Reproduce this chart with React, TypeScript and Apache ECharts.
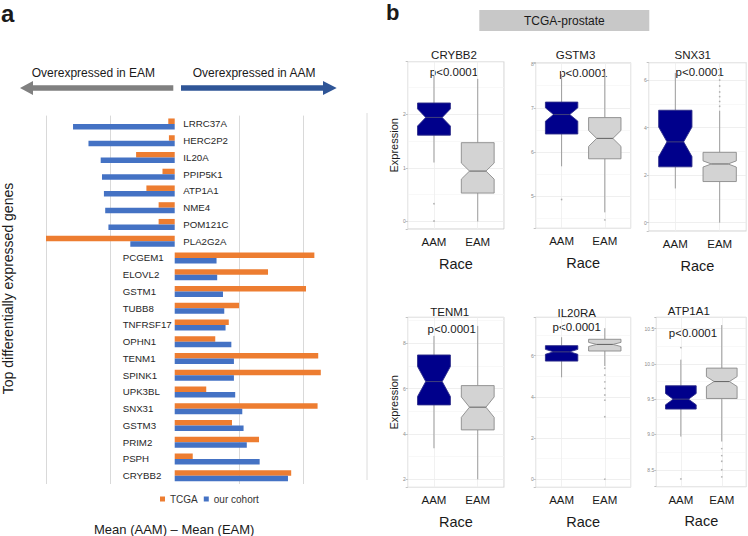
import React, { useEffect, useRef } from "react";
import * as echarts from "echarts";

// ---------- Panel a: mean(AAM) - mean(EAM) ----------
const genes = [
  "LRRC37A", "HERC2P2", "IL20A", "PPIP5K1", "ATP1A1", "NME4", "POM121C", "PLA2G2A",
  "PCGEM1", "ELOVL2", "GSTM1", "TUBB8", "TNFRSF17", "OPHN1", "TENM1", "SPINK1",
  "UPK3BL", "SNX31", "GSTM3", "PRIM2", "PSPH", "CRYBB2",
];
const tcgaDiff = [
  -0.1, -0.09, -0.6, -0.19, -0.44, -0.25, -0.25, -2.02,
  2.17, 1.45, 2.04, 1.0, 0.84, 0.63, 2.23, 2.27,
  0.49, 2.22, 0.89, 1.31, 0.28, 1.81,
];
const cohortDiff = [
  -1.58, -1.34, -1.15, -1.13, -1.1, -1.08, -1.03, -0.69,
  0.65, 0.66, 0.75, 0.77, 0.79, 0.88, 0.92, 0.92,
  0.94, 1.05, 1.07, 1.12, 1.32, 1.76,
];
const diffGridValues = [-2, -1, 1, 2];
const seriesNames = ["TCGA", "our cohort"];

// ---------- Panel b: TCGA-prostate boxplots ----------
const raceGroups = ["AAM", "EAM"];
const boxGenes = ["CRYBB2", "GSTM3", "SNX31", "TENM1", "IL20RA", "ATP1A1"];
const pValueText = "p<0.0001";
// per group: [lower whisker, Q1, median, Q3, upper whisker, notch half-height]
const crybb2Stats = [[1.1, 1.61, 1.94, 2.21, 2.72, 0.16], [0.0, 0.53, 0.94, 1.47, 2.66, 0.15]];
const gstm3Stats = [[5.68, 6.41, 6.85, 7.13, 7.76, 0.15], [4.64, 5.85, 6.31, 6.78, 7.8, 0.18]];
const snx31Stats = [[1.44, 2.35, 3.4, 4.73, 6.3, 0.62], [0.0, 1.73, 2.47, 2.96, 4.71, 0.13]];
const tenm1Stats = [[3.37, 5.28, 6.31, 7.48, 8.32, 0.66], [2.0, 4.18, 5.18, 6.13, 8.76, 0.45]];
const il20raStats = [[4.95, 5.74, 6.19, 6.49, 6.9, 0.12], [5.5, 6.23, 6.55, 6.8, 7.34, 0.1]];
const atp1a1Stats = [[8.97, 9.36, 9.5, 9.69, 10.06, 0.08], [8.9, 9.51, 9.75, 9.94, 10.55, 0.07]];
const crybb2Outliers = [[0.33, 0.01], []];
const gstm3Outliers = [[4.93], [4.47]];
const snx31Outliers = [[], [6.2, 6.0, 5.75, 5.5, 5.3, 5.1, 4.9]];
const tenm1Outliers = [[], []];
const il20raOutliers = [[], [5.39, 5.06, 4.73, 4.41, 4.09, 3.84, 3.03, 0.0]];
const atp1a1Outliers = [[10.23, 8.37], [8.8, 8.7, 8.62, 8.5, 8.4]];
const yAxisRanges = [[-0.14, 2.98], [4.28, 8.02], [-0.35, 6.73], [1.65, 9.14], [-0.4, 7.87], [8.26, 10.66]];
const yMajorSteps = [1, 1, 2, 2, 2, 0.5];

// ---------- layout ----------
const FONT = "Liberation Sans, Arial, Helvetica, sans-serif";
const panelRects = [
  { left: 407.7, top: 61.7, width: 96.3, height: 167.3 },
  { left: 535.7, top: 62.7, width: 95, height: 165.6 },
  { left: 648.7, top: 62.7, width: 97.6, height: 168.3 },
  { left: 407.7, top: 317.3, width: 96.3, height: 170 },
  { left: 535.7, top: 317.3, width: 95, height: 170 },
  { left: 656.3, top: 317.3, width: 90, height: 169.4 },
];
const titlePos = [[454, 55], [575.5, 55], [692.7, 55], [449.7, 312], [576.7, 312.5], [688.8, 311]];
const pPos = [[454, 72.3], [583.3, 72.7], [699.7, 72.3], [451.7, 329.3], [576.7, 326.7], [693, 333.3]];

const AAM_FILL = "#00008B";
const EAM_FILL = "#D3D3D3";

function renderNotchedBox(params: any, api: any) {
  const x = api.value(0);
  const lo = api.value(1);
  const q1 = api.value(2);
  const med = api.value(3);
  const q3 = api.value(4);
  const hi = api.value(5);
  const nh = api.value(6);
  const halfW = api.size([0.75, 0])[0] / 2;
  const c3 = api.coord([x, q3]);
  const cx = c3[0];
  const yQ3 = c3[1];
  const yQ1 = api.coord([x, q1])[1];
  const yMed = api.coord([x, med])[1];
  const yNU = api.coord([x, med + nh])[1];
  const yNL = api.coord([x, med - nh])[1];
  const yLo = api.coord([x, lo])[1];
  const yHi = api.coord([x, hi])[1];
  const waist = halfW * 0.5;
  const isA = Math.round(x) === 1;
  const fill = isA ? AAM_FILL : EAM_FILL;
  const stroke = isA ? "#2b2b88" : "#8a8a8a";
  const whisker = "#9c9c9c";
  return {
    type: "group",
    children: [
      { type: "line", shape: { x1: cx, y1: yHi, x2: cx, y2: yQ3 }, style: { stroke: whisker, lineWidth: 1 } },
      { type: "line", shape: { x1: cx, y1: yQ1, x2: cx, y2: yLo }, style: { stroke: whisker, lineWidth: 1 } },
      {
        type: "polygon",
        shape: {
          points: [
            [cx - halfW, yQ3], [cx + halfW, yQ3], [cx + halfW, yNU], [cx + waist, yMed],
            [cx + halfW, yNL], [cx + halfW, yQ1], [cx - halfW, yQ1], [cx - halfW, yNL],
            [cx - waist, yMed], [cx - halfW, yNU],
          ],
        },
        style: { fill, stroke, lineWidth: 0.9 },
      },
      { type: "line", shape: { x1: cx - waist, y1: yMed, x2: cx + waist, y2: yMed }, style: { stroke: isA ? "#3c3c7c" : "#6a6a6a", lineWidth: 1.1 } },
    ],
  };
}

function buildOption() {
  const grids: any[] = [
    { left: 46, top: 115.6, width: 289.6, height: 368.4, containLabel: false, outerBoundsMode: "none" },
  ];
  const xAxes: any[] = [
    {
      type: "value", gridIndex: 0, min: -2, max: 2.5,
      axisLine: { show: false }, axisTick: { show: false }, axisLabel: { show: false }, splitLine: { show: false },
    },
  ];
  const geneLabel = (margin: number, positive: boolean) => ({
    interval: 0, align: "left", margin, fontSize: 9.7, color: "#262626", fontFamily: FONT,
    formatter: (v: string, i: number) => ((cohortDiff[i] > 0) === positive ? v : ""),
  });
  const yAxes: any[] = [
    {
      type: "category", gridIndex: 0, data: genes, inverse: true, position: "left",
      axisLine: { show: false }, axisTick: { show: false }, splitLine: { show: false },
      axisLabel: geneLabel(-76.7, true),
    },
    {
      type: "category", gridIndex: 0, data: genes, inverse: true, position: "left",
      axisLine: { show: false }, axisTick: { show: false }, splitLine: { show: false },
      axisLabel: geneLabel(-137.3, false),
    },
  ];
  const series: any[] = [
    {
      type: "bar", name: seriesNames[0], xAxisIndex: 0, yAxisIndex: 0, data: tcgaDiff,
      barWidth: 5.5, barGap: "0%", itemStyle: { color: "#ED7D31" }, z: 3, silent: true,
      markLine: {
        silent: true, symbol: ["none", "none"], label: { show: false }, z: 1,
        lineStyle: { color: "#d9d9d9", type: "solid", width: 1 },
        data: diffGridValues.map((v) => ({ xAxis: v })),
      },
    },
    {
      type: "bar", name: seriesNames[1], xAxisIndex: 0, yAxisIndex: 0, data: cohortDiff,
      barWidth: 5.5, barGap: "0%", itemStyle: { color: "#4472C4" }, z: 3, silent: true,
    },
  ];

  const statsList = [crybb2Stats, gstm3Stats, snx31Stats, tenm1Stats, il20raStats, atp1a1Stats];
  const outlierList = [crybb2Outliers, gstm3Outliers, snx31Outliers, tenm1Outliers, il20raOutliers, atp1a1Outliers];

  boxGenes.forEach((gene, i) => {
    const gi = i + 1;
    const step = yMajorSteps[i];
    grids.push({
      ...panelRects[i], show: true, borderColor: "#c4c4c4", borderWidth: 0.8,
      containLabel: false, outerBoundsMode: "none",
    });
    xAxes.push({
      type: "value", gridIndex: gi, min: 0.4, max: 2.6, minInterval: 1, maxInterval: 1,
      axisLine: { show: false }, axisTick: { show: false },
      axisLabel: {
        fontSize: 11.5, color: "#1a1a1a", margin: 7, fontFamily: FONT,
        formatter: (v: number) => {
          const k = Math.round(v);
          return Math.abs(v - k) < 1e-6 && k >= 1 && k <= raceGroups.length ? raceGroups[k - 1] : "";
        },
      },
      splitLine: { show: true, lineStyle: { color: "#ededed", width: 0.8 } },
      name: "Race", nameLocation: "middle", nameGap: 27,
      nameTextStyle: { fontSize: 14.5, color: "#1a1a1a", fontFamily: FONT },
    });
    yAxes.push({
      type: "value", gridIndex: gi, min: yAxisRanges[i][0], max: yAxisRanges[i][1],
      minInterval: step, maxInterval: step,
      axisLine: { show: false },
      axisTick: { show: true, length: 2, lineStyle: { color: "#9a9a9a", width: 0.6 } },
      minorTick: { show: false, splitNumber: 2 },
      axisLabel: {
        fontSize: 5, color: "#8a8a8a", margin: 2, fontFamily: FONT,
        formatter: (v: number) => {
          const k = v / step;
          if (Math.abs(k - Math.round(k)) > 1e-6) return "";
          return step < 1 ? v.toFixed(1) : String(Math.round(v));
        },
      },
      splitLine: { show: true, lineStyle: { color: "#ebebeb", width: 0.8 } },
      minorSplitLine: { show: true, lineStyle: { color: "#f4f4f4", width: 0.6 } },
      name: i % 3 === 0 ? "Expression" : "", nameLocation: "middle", nameGap: 8,
      nameTextStyle: { fontSize: 11, color: "#1a1a1a", fontFamily: FONT },
    });
    series.push({
      type: "custom", xAxisIndex: gi, yAxisIndex: gi + 1, renderItem: renderNotchedBox,
      encode: { x: 0, y: [1, 2, 3, 4, 5] }, silent: true, z: 3,
      data: statsList[i].map((s, g) => [g + 1, ...s]),
    });
    series.push({
      type: "scatter", xAxisIndex: gi, yAxisIndex: gi + 1, symbolSize: 1.6, silent: true, z: 4,
      itemStyle: { color: "#9a9a9a" },
      data: outlierList[i].flatMap((arr, g) => arr.map((v) => [g + 1, v])),
    });
  });

  const txt = (text: string, x: number, y: number, size: number, extra: any = {}) => ({
    type: "text", x, y, silent: true, ...extra,
    style: {
      text, fill: "#1a1a1a", font: `${extra.bold ? "bold " : ""}${size}px ${FONT}`,
      align: extra.align || "center", verticalAlign: "middle",
    },
  });

  const graphic: any[] = [
    txt("a", 1, 13, 24, { bold: true, align: "left" }),
    txt("b", 386, 12, 22, { bold: true, align: "left" }),
    {
      type: "polygon", silent: true,
      shape: { points: [[20, 88], [33, 81], [33, 85.2], [173.3, 85.2], [173.3, 90.8], [33, 90.8], [33, 95]] },
      style: { fill: "#808080" },
    },
    {
      type: "polygon", silent: true,
      shape: { points: [[336.7, 88], [323, 81], [323, 85.2], [181, 85.2], [181, 90.8], [323, 90.8], [323, 95]] },
      style: { fill: "#2F5597" },
    },
    txt("Overexpressed in EAM", 31.7, 73.3, 12, { align: "left" }),
    txt("Overexpressed in AAM", 192.7, 73.3, 12, { align: "left" }),
    { ...txt("Top differentially expressed genes", 7.5, 288.5, 14), rotation: Math.PI / 2 },
    txt("Mean (AAM) \u2013 Mean (EAM)", 174.2, 529.3, 13),
    { type: "line", silent: true, shape: { x1: 367, y1: 113, x2: 367, y2: 480 }, style: { stroke: "#dcdcdc", lineWidth: 1 } },
    { type: "rect", silent: true, shape: { x: 479.3, y: 10, width: 170, height: 21 }, style: { fill: "#c8c8c8" } },
    txt("TCGA-prostate", 564.3, 20.7, 12),
  ];
  boxGenes.forEach((gene, i) => {
    graphic.push(txt(gene, titlePos[i][0], titlePos[i][1], 11.5));
    graphic.push(txt(pValueText, pPos[i][0], pPos[i][1], 11.5));
  });

  return {
    animation: false,
    backgroundColor: "#ffffff",
    textStyle: { fontFamily: FONT },
    grid: grids,
    xAxis: xAxes,
    yAxis: yAxes,
    legend: {
      data: seriesNames, left: 160, top: 494, icon: "rect", itemWidth: 5, itemHeight: 5,
      itemGap: 6, padding: 0, selectedMode: false,
      textStyle: { fontSize: 10, color: "#333", fontFamily: FONT },
    },
    series,
    graphic,
  };
}

export default function App() {
  const ref = useRef<HTMLDivElement>(null);
  useEffect(() => {
    const chart = echarts.init(ref.current as HTMLDivElement, null, { renderer: "svg" });
    chart.setOption(buildOption() as any);
    return () => chart.dispose();
  }, []);
  return (
    <div
      ref={ref}
      style={{ position: "fixed", left: 0, top: 0, width: 748, height: 536, background: "#fff" }}
    />
  );
}
